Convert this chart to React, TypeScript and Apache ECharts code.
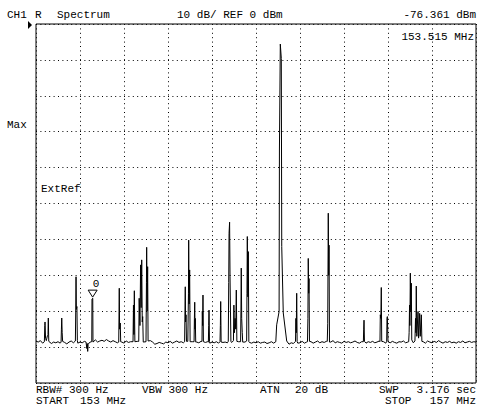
import React, { useEffect, useRef } from "react";
import * as echarts from "echarts";

const START_MHZ = 153;
const STOP_MHZ = 157;
const DIV_MHZ = 0.4;
const REF_DBM = 0;
const BOTTOM_DBM = -100;
const DB_PER_DIV = 10;
const MARKER_MHZ = 153.515;
const MARKER_DBM = -76.361;

const NOISE_STEP_MHZ = 0.02;
// noise floor, one reading every 0.02 MHz from 153.00 to 157.00 MHz
const NOISE_DBM = [
  -88.3, -88.6, -88.2, -88.9, -88.5, -88.7, -88.4, -89.0, -88.6, -88.8,
  -88.5, -88.9, -88.4, -88.7, -89.1, -88.6, -88.3, -88.8, -88.5, -88.9,
  -88.6, -88.8, -88.4, -88.7, -88.9, -88.5, -88.2, -88.0, -88.6, -88.3,
  -88.1, -88.4, -87.9, -88.3, -88.6, -88.2, -88.5, -88.8, -88.4, -88.6,
  -88.9, -88.3, -88.7, -88.5, -88.8, -88.6, -88.4, -88.9, -88.5, -88.7,
  -88.4, -88.8, -88.2, -88.6, -89.2, -89.0, -88.7, -88.9, -89.1, -88.6,
  -88.8, -88.4, -88.9, -88.6, -88.3, -88.7, -88.5, -88.8, -88.6, -88.4,
  -88.7, -88.5, -88.9, -88.6, -88.8, -88.4, -89.0, -88.7, -88.5, -88.9,
  -88.6, -88.8, -88.5, -88.9, -88.4, -88.7, -88.6, -88.8, -88.5, -88.7,
  -88.6, -88.9, -88.5, -88.7, -88.8, -88.6, -89.0, -88.7, -88.9, -88.6,
  -88.8, -88.5, -88.9, -88.7, -88.6, -89.0, -88.8, -88.5, -88.9, -88.7,
  -88.6, -88.8, -88.5, -88.7, -88.9, -89.2, -88.8, -89.0, -88.7, -88.9,
  -88.8, -88.4, -88.9, -88.6, -88.7, -88.5, -88.9, -88.6, -88.3, -88.8,
  -88.5, -88.7, -88.4, -88.9, -88.6, -88.2, -88.8, -88.5, -88.7, -88.9,
  -88.4, -88.7, -88.5, -88.8, -88.6, -88.3, -88.7, -88.9, -88.5, -88.6,
  -88.9, -88.5, -88.7, -88.4, -88.8, -88.6, -88.3, -88.7, -88.5, -88.9,
  -88.6, -88.8, -88.4, -88.7, -88.9, -88.5, -88.6, -88.3, -88.8, -88.6,
  -88.7, -88.5, -88.8, -88.6, -88.4, -88.7, -88.5, -88.9, -88.3, -88.6,
  -88.8, -88.4, -88.7, -88.2, -88.6, -88.9, -88.5, -88.7, -88.4, -88.8,
  -88.6, -88.9, -88.5, -88.7, -88.3, -88.8, -88.6, -88.4, -88.7, -88.5,
  -88.6,
];

// spurious signals: [MHz, dBm] readings of each spike group
const SPURS: number[][][] = [
  [[153.076, -88.5], [153.080, -84.0], [153.082, -83.0], [153.087, -87.6], [153.094, -88.2], [153.104, -86.8], [153.109, -86.5], [153.112, -81.9], [153.116, -88.4]],
  [[153.228, -88.6], [153.231, -85.0], [153.234, -81.9], [153.238, -86.0], [153.242, -88.4]],
  [[153.358, -88.3], [153.361, -80.5], [153.364, -70.4], [153.367, -79.5], [153.372, -78.7], [153.376, -88.2]],
  [[153.455, -88.6], [153.462, -90.4], [153.466, -89.0], [153.470, -91.2], [153.474, -89.3]],
  [[153.507, -88.5], [153.509, -76.6], [153.516, -76.4], [153.518, -88.6]],
  [[153.752, -88.6], [153.755, -80.0], [153.757, -73.6], [153.760, -85.0], [153.766, -83.3], [153.770, -88.5]],
  [[153.882, -88.5], [153.886, -78.3], [153.890, -86.5], [153.894, -74.3], [153.899, -88.5]],
  [[153.934, -88.4], [153.938, -76.4], [153.945, -84.0], [153.951, -67.1], [153.956, -79.0], [153.961, -65.7], [153.966, -83.0], [153.970, -81.5], [153.975, -88.6]],
  [[154.000, -88.5], [154.004, -72.0], [154.006, -62.2], [154.010, -80.0], [154.015, -67.6], [154.019, -88.3]],
  [[154.351, -88.5], [154.355, -78.0], [154.357, -73.2], [154.360, -83.0], [154.364, -81.0], [154.368, -88.4]],
  [[154.383, -88.3], [154.386, -75.0], [154.388, -60.2], [154.392, -78.0], [154.397, -68.5], [154.401, -88.5]],
  [[154.437, -88.5], [154.440, -82.0], [154.443, -77.5], [154.446, -85.0], [154.448, -82.0], [154.452, -88.6]],
  [[154.509, -88.4], [154.512, -80.0], [154.515, -84.0], [154.518, -75.5], [154.522, -88.5]],
  [[154.567, -88.6], [154.570, -84.0], [154.573, -79.7], [154.577, -88.4]],
  [[154.673, -88.5], [154.676, -84.0], [154.679, -77.3], [154.683, -88.6]],
  [[154.748, -88.4], [154.752, -72.0], [154.755, -58.3], [154.760, -55.2], [154.764, -70.4], [154.768, -80.0], [154.772, -88.5]],
  [[154.795, -88.2], [154.799, -78.3], [154.804, -86.0], [154.810, -82.0], [154.816, -85.0], [154.821, -74.1], [154.826, -88.4]],
  [[154.860, -88.5], [154.863, -80.0], [154.866, -68.0], [154.870, -82.0], [154.875, -86.0], [154.879, -88.6]],
  [[154.915, -88.3], [154.918, -75.0], [154.921, -59.2], [154.926, -76.0], [154.930, -63.4], [154.935, -88.5]],
  [[155.180, -88.5], [155.188, -83.8], [155.210, -80.1], [155.213, -35.1], [155.221, -5.6], [155.230, -9.6], [155.234, -62.0], [155.248, -80.5], [155.279, -88.3]],
  [[155.359, -88.4], [155.363, -82.0], [155.366, -86.0], [155.370, -75.0], [155.374, -88.5]],
  [[155.468, -88.5], [155.472, -82.0], [155.475, -65.3], [155.479, -75.0], [155.482, -70.9], [155.486, -88.4]],
  [[155.648, -88.4], [155.652, -83.5], [155.655, -83.5], [155.657, -52.7], [155.661, -70.0], [155.664, -61.6], [155.668, -88.6]],
  [[155.976, -88.5], [155.979, -85.0], [155.982, -82.5], [155.986, -88.4]],
  [[156.127, -88.5], [156.130, -81.0], [156.135, -82.0], [156.139, -73.4], [156.143, -88.4]],
  [[156.188, -88.4], [156.191, -82.0], [156.194, -81.5], [156.197, -85.0], [156.200, -88.5]],
  [[156.388, -88.5], [156.392, -86.0], [156.396, -78.3], [156.399, -84.0], [156.403, -69.4], [156.407, -80.0], [156.412, -72.2], [156.416, -88.0], [156.430, -88.8], [156.445, -88.3], [156.450, -82.0], [156.454, -86.0], [156.457, -73.0], [156.462, -87.0], [156.473, -80.1], [156.478, -87.5], [156.488, -80.6], [156.493, -87.0], [156.503, -81.0], [156.508, -88.4]],
];

const HEADER_LEFT = ["CH1", "R", "Spectrum"];
const HEADER_SCALE = "10 dB/ REF 0 dBm";
const MARKER_LEVEL_TEXT = "-76.361 dBm";
const MARKER_FREQ_TEXT = "153.515 MHz";
const FOOTER = {
  rbw: "RBW# 300 Hz",
  vbw: "VBW 300 Hz",
  atn: "ATN",
  atnVal: "20 dB",
  swp: "SWP",
  swpVal: "3.176 sec",
  start: "START",
  startVal: "153 MHz",
  stop: "STOP",
  stopVal: "157 MHz",
};

function buildTrace(): number[][] {
  const pts: number[][] = [];
  NOISE_DBM.forEach((v, i) => {
    const f = START_MHZ + i * NOISE_STEP_MHZ;
    const inside = SPURS.some(
      (g) => f >= g[0][0] - 0.002 && f <= g[g.length - 1][0] + 0.002
    );
    if (!inside) pts.push([f, v]);
  });
  SPURS.forEach((g) => g.forEach((p) => pts.push([p[0], p[1]])));
  pts.sort((a, b) => a[0] - b[0]);
  return pts.map(([f, v]) => [+(f - START_MHZ).toFixed(4), v]);
}

const FONT = '11px "Liberation Mono", "DejaVu Sans Mono", monospace';

function txt(text: string, x: number, y: number, align: string = "left") {
  return {
    type: "text",
    x,
    y,
    silent: true,
    style: {
      text,
      font: FONT,
      fill: "#000",
      textAlign: align,
      textVerticalAlign: "middle",
    },
  };
}

export default function App() {
  const ref = useRef<HTMLDivElement>(null);
  useEffect(() => {
    if (!ref.current) return;
    const chart = echarts.init(ref.current, null, { renderer: "svg" });
    const dotted = { color: "#000", width: 1, type: [1, 3.4] as any };
    chart.setOption({
      animation: false,
      backgroundColor: "#fff",
      grid: {
        left: 36,
        top: 24,
        width: 440,
        height: 359,
        show: true,
        borderColor: "#000",
        borderWidth: 1,
        backgroundColor: "transparent",
      },
      xAxis: {
        type: "value",
        min: 0,
        max: STOP_MHZ - START_MHZ,
        interval: DIV_MHZ,
        axisLabel: { show: false },
        axisTick: { show: false },
        axisLine: { show: false },
        splitLine: { show: true, lineStyle: dotted },
      },
      yAxis: {
        type: "value",
        min: BOTTOM_DBM,
        max: REF_DBM,
        interval: DB_PER_DIV,
        axisLabel: { show: false },
        axisTick: { show: false },
        axisLine: { show: false },
        splitLine: { show: true, lineStyle: dotted },
      },
      series: [
        {
          type: "line",
          data: buildTrace(),
          symbol: "none",
          showSymbol: false,
          clip: true,
          lineStyle: { color: "#000", width: 1 },
          silent: true,
        },
      ],
    });

    const [mx, my] = chart.convertToPixel({ gridIndex: 0 }, [
      MARKER_MHZ - START_MHZ,
      MARKER_DBM,
    ]) as number[];

    const row1 = 389.5;
    const row2 = 400.5;
    chart.setOption({
      graphic: [
        txt(HEADER_LEFT[0], 7, 14.5),
        txt(HEADER_LEFT[1], 35, 14.5),
        txt(HEADER_LEFT[2], 57, 14.5),
        txt(HEADER_SCALE, 177, 14.5),
        txt(MARKER_LEVEL_TEXT, 476, 14.5, "right"),
        txt(MARKER_FREQ_TEXT, 474, 36.5, "right"),
        txt("Max", 7, 125),
        txt("ExtRef", 41, 189),
        txt("0", mx, my - 14),
        {
          type: "polygon",
          silent: true,
          shape: {
            points: [
              [mx - 4.5, my - 8],
              [mx + 4.5, my - 8],
              [mx, my - 1],
            ],
          },
          style: { fill: "none", stroke: "#000", lineWidth: 1 },
        },
        {
          type: "polygon",
          silent: true,
          shape: { points: [[28, 21], [28, 29], [32, 25]] },
          style: { fill: "#000" },
        },
        txt(FOOTER.rbw, 36, row1),
        txt(FOOTER.vbw, 142, row1),
        txt(FOOTER.atn, 260, row1),
        txt(FOOTER.atnVal, 295, row1),
        txt(FOOTER.swp, 379, row1),
        txt(FOOTER.swpVal, 476, row1, "right"),
        txt(FOOTER.start, 36, row2),
        txt(FOOTER.startVal, 80, row2),
        txt(FOOTER.stop, 385, row2),
        txt(FOOTER.stopVal, 476, row2, "right"),
      ],
    });
    return () => chart.dispose();
  }, []);
  return (
    <div
      ref={ref}
      style={{ position: "fixed", left: 0, top: 0, width: 484, height: 414, background: "#fff" }}
    />
  );
}
